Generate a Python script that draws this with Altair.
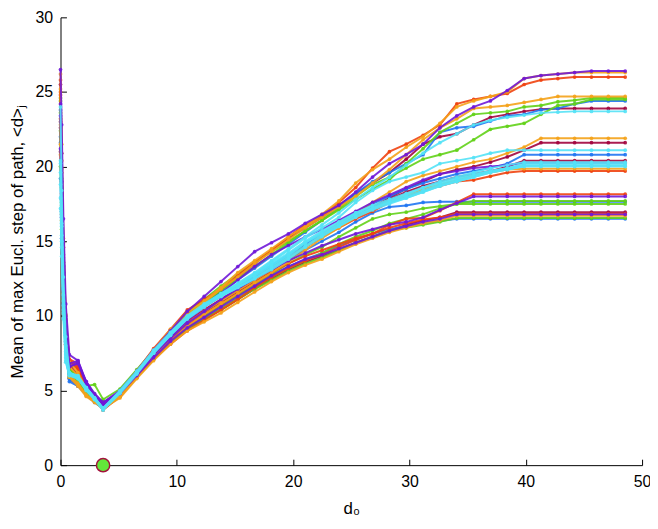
import altair as alt
import pandas as pd

# shared d0 grid
X = [0, 0.1, 0.25, 0.45, 0.76, 1.5, 2.21, 2.93, 3.66,
     5.11, 6.56, 8.0, 9.45, 10.9, 12.35, 13.8, 15.24, 16.69, 18.14, 19.59, 21.04, 22.48, 23.93, 25.38, 26.83, 28.28,
     29.72, 31.17, 32.62, 34.07, 35.52, 36.96, 38.41, 39.86, 41.31, 42.76, 44.2, 45.65, 47.1, 48.55]

A_PURPLE = [26.5, 22.8, 16.5, 10.8, 7.4, 7.0, 5.6, 4.8, 4.2,
            5.0, 6.3, 7.7, 9.0, 10.3, 11.3, 12.3, 13.3, 14.3, 14.9, 15.5, 16.2, 16.8, 17.4, 18.3, 19.3, 20.2,
            20.8, 21.5, 22.6, 23.4, 24.0, 24.4, 25.1, 25.9, 26.1, 26.2, 26.3, 26.4, 26.4, 26.4]
A_ORANGE = [26.2, 21.5, 15.2, 10.1, 6.9, 6.2, 5.1, 4.6, 4.0,
            4.9, 6.3, 7.7, 9.1, 10.2, 11.0, 11.9, 12.9, 13.7, 14.5, 15.3, 16.0, 16.8, 17.7, 18.9, 19.8, 20.5,
            21.3, 22.0, 22.9, 24.0, 24.4, 24.7, 25.0, 25.9, 26.1, 26.2, 26.3, 26.3, 26.3, 26.3]
A_RED = [25.8, 20.4, 14.6, 9.8, 7.1, 6.8, 5.2, 4.5, 3.8,
         4.8, 6.3, 7.8, 9.1, 10.4, 11.1, 11.8, 12.7, 13.6, 14.4, 15.3, 16.1, 16.7, 17.6, 18.6, 19.9, 21.0,
         21.5, 22.1, 22.8, 24.2, 24.5, 24.7, 24.9, 25.5, 25.8, 25.9, 26.0, 26.0, 26.0, 26.0]
B_ORANGE = [25.2, 19.8, 13.9, 9.6, 6.6, 6.0, 5.0, 4.4, 3.9,
            4.7, 6.1, 7.5, 8.8, 10.0, 10.9, 11.8, 12.6, 13.5, 14.3, 15.1, 15.9, 16.6, 17.3, 18.0, 18.9, 19.8,
            20.8, 21.8, 22.6, 23.2, 23.9, 24.0, 24.1, 24.3, 24.5, 24.7, 24.7, 24.7, 24.7, 24.7]
B_GREEN1 = [24.6, 19.2, 13.4, 9.2, 6.5, 5.9, 5.0, 4.5, 4.1,
            4.9, 6.3, 7.6, 8.9, 10.1, 10.9, 11.7, 12.5, 13.3, 14.1, 14.9, 15.7, 16.4, 17.1, 17.8, 18.5, 19.1,
            20.2, 21.2, 22.3, 22.9, 23.5, 23.6, 23.7, 24.0, 24.1, 24.35, 24.45, 24.6, 24.6, 24.6]
B_GREEN2 = [24.4, 18.6, 12.8, 8.9, 6.3, 5.6, 5.3, 5.4, 4.4,
            5.1, 6.4, 7.7, 9.0, 10.2, 11.1, 12.0, 12.8, 13.6, 14.3, 15.0, 15.7, 16.4, 17.2, 18.0, 18.8, 19.3,
            19.9, 20.5, 20.8, 21.1, 21.8, 22.5, 22.7, 22.9, 23.5, 24.1, 24.2, 24.5, 24.5, 24.5]
B_BLUE = [23.8, 18.0, 12.5, 8.7, 6.1, 5.5, 4.9, 4.3, 3.9,
          4.8, 6.2, 7.6, 8.8, 9.9, 10.8, 11.6, 12.4, 13.2, 14.0, 14.8, 15.6, 16.4, 17.3, 18.2, 19.0, 19.6,
          20.2, 20.8, 22.3, 22.6, 22.7, 23.05, 23.4, 23.5, 23.8, 23.9, 24.2, 24.4, 24.4, 24.4]
B_DARKRED = [25.5, 20.9, 14.9, 10.0, 6.8, 6.0, 5.1, 4.6, 4.0,
             4.8, 6.1, 7.5, 8.7, 9.9, 10.8, 11.7, 12.6, 13.5, 14.4, 15.2, 15.9, 16.6, 17.4, 18.2, 18.9, 19.6,
             20.5, 21.5, 22.0, 22.2, 22.8, 23.3, 23.5, 23.7, 23.85, 23.9, 23.9, 23.9, 23.9, 23.9]
B_CYAN = [24.0, 18.4, 12.6, 8.6, 6.2, 5.9, 5.1, 4.5, 3.8,
          4.9, 6.2, 7.6, 8.8, 9.9, 10.7, 11.5, 12.2, 12.9, 13.7, 14.5, 15.3, 16.1, 16.9, 17.8, 18.6, 19.3,
          20.1, 20.9, 21.6, 22.2, 22.8, 23.1, 23.3, 23.45, 23.6, 23.65, 23.7, 23.7, 23.7, 23.7]
C_ORANGE = [22.8, 17.4, 12.0, 8.3, 6.0, 5.5, 4.7, 4.3, 3.9,
            4.7, 6.0, 7.3, 8.5, 9.5, 10.3, 11.0, 11.7, 12.4, 13.1, 13.8, 14.6, 15.4, 16.2, 16.9, 17.6, 18.3,
            19.0, 19.4, 19.7, 20.0, 20.3, 20.5, 20.9, 21.3, 21.9, 21.9, 21.9, 21.9, 21.9, 21.9]
C_DARKRED = [21.0, 16.8, 11.6, 8.1, 5.8, 5.3, 4.8, 4.4, 4.0,
             4.8, 6.1, 7.4, 8.6, 9.6, 10.4, 11.1, 11.9, 12.6, 13.3, 14.0, 14.7, 15.3, 16.0, 16.7, 17.3, 17.9,
             18.5, 19.0, 19.5, 19.8, 20.0, 20.3, 20.65, 21.1, 21.6, 21.6, 21.6, 21.6, 21.6, 21.6]
C_CYAN = [20.4, 16.2, 11.4, 8.0, 6.2, 5.9, 5.2, 4.5, 3.8,
          4.9, 6.2, 7.6, 8.8, 9.9, 10.7, 11.4, 12.1, 12.8, 13.6, 14.4, 15.2, 15.9, 16.6, 17.6, 18.4, 19.0,
          19.3, 19.6, 20.2, 20.4, 20.6, 20.9, 21.1, 21.1, 21.1, 21.1, 21.1, 21.1, 21.1, 21.1]
C_BLUE = [22.0, 17.0, 11.8, 8.2, 5.9, 5.4, 4.8, 4.3, 3.9,
          4.8, 6.1, 7.5, 8.7, 9.8, 10.6, 11.3, 12.0, 12.7, 13.4, 14.1, 14.8, 15.5, 16.2, 16.9, 17.5, 18.0,
          18.5, 18.9, 19.2, 19.5, 19.7, 19.9, 20.2, 20.8, 20.8, 20.8, 20.8, 20.8, 20.8, 20.8]
C_DARKRED2 = [23.0, 18.1, 12.7, 8.8, 6.4, 6.0, 5.0, 4.4, 3.8,
              4.7, 6.0, 7.3, 8.4, 9.4, 10.2, 10.9, 11.6, 12.3, 13.0, 13.8, 14.6, 15.3, 16.0, 16.6, 17.2, 17.8,
              18.3, 18.7, 19.0, 19.3, 19.5, 19.7, 20.0, 20.4, 20.4, 20.4, 20.4, 20.4, 20.4, 20.4]
C_CYAN1 = [20.2, 16.0, 11.0, 7.6, 6.2, 6.0, 5.2, 4.5, 3.8,
           4.9, 6.2, 7.6, 8.8, 9.9, 10.7, 11.4, 12.0, 12.6, 13.3, 14.0, 14.9, 15.6, 16.2, 16.9, 17.3, 17.7,
           18.1, 18.6, 19.0, 19.3, 19.6, 19.9, 20.1, 20.3, 20.3, 20.3, 20.3, 20.3, 20.3, 20.3]
C_CYAN2 = [19.6, 15.4, 10.7, 7.4, 6.1, 5.9, 5.1, 4.4, 3.8,
           4.9, 6.2, 7.5, 8.7, 9.8, 10.6, 11.3, 11.9, 12.5, 13.2, 13.9, 14.7, 15.4, 16.0, 16.7, 17.2, 17.6,
           18.0, 18.4, 18.8, 19.1, 19.4, 19.7, 19.9, 20.2, 20.2, 20.2, 20.2, 20.2, 20.2, 20.2]
C_CYAN3 = [18.8, 15.0, 10.4, 7.2, 6.0, 5.8, 5.0, 4.4, 3.7,
           4.8, 6.1, 7.5, 8.7, 9.8, 10.6, 11.4, 12.1, 12.8, 13.5, 14.2, 15.0, 15.7, 16.3, 16.9, 17.4, 17.8,
           18.2, 18.6, 18.9, 19.2, 19.5, 19.7, 19.9, 20.1, 20.1, 20.1, 20.1, 20.1, 20.1, 20.1]
C_CYAN4 = [17.9, 14.6, 10.2, 7.0, 6.1, 5.9, 5.2, 4.5, 3.8,
           5.0, 6.3, 7.7, 8.9, 10.0, 10.8, 11.5, 12.1, 12.7, 13.4, 14.1, 14.9, 15.5, 16.1, 16.8, 17.2, 17.6,
           17.9, 18.3, 18.7, 19.0, 19.3, 19.6, 19.8, 20.0, 20.0, 20.0, 20.0, 20.0, 20.0, 20.0]
C_CYAN5 = [17.2, 14.0, 9.8, 6.9, 6.0, 5.8, 5.1, 4.4, 3.7,
           4.9, 6.2, 7.6, 8.8, 9.9, 10.7, 11.3, 11.9, 12.5, 13.1, 13.8, 14.6, 15.3, 16.0, 16.6, 17.1, 17.5,
           17.9, 18.3, 18.7, 19.0, 19.3, 19.6, 19.8, 20.05, 20.05, 20.05, 20.05, 20.05, 20.05, 20.05]
C_ORANGE2 = [21.5, 16.9, 11.7, 8.1, 5.9, 5.4, 4.7, 4.3, 3.8,
             4.6, 5.9, 7.2, 8.3, 9.3, 10.1, 10.8, 11.5, 12.2, 12.9, 13.6, 14.4, 15.2, 15.9, 16.6, 17.2, 17.7,
             18.1, 18.5, 18.8, 19.1, 19.4, 19.6, 19.8, 19.85, 19.85, 19.85, 19.85, 19.85, 19.85, 19.85]
C_RED = [24.8, 19.6, 13.6, 9.4, 6.9, 6.5, 5.1, 4.4, 3.7,
         4.7, 6.0, 7.4, 8.6, 9.6, 10.3, 11.0, 11.7, 12.4, 13.1, 13.9, 14.6, 15.3, 15.9, 16.5, 17.0, 17.6,
         18.0, 18.4, 18.7, 19.0, 19.1, 19.35, 19.6, 19.7, 19.7, 19.7, 19.7, 19.7, 19.7, 19.7]
C_PURPLE = [23.4, 18.3, 12.9, 8.9, 6.6, 6.8, 5.6, 4.7, 4.2,
            4.9, 6.1, 7.4, 8.6, 9.7, 10.6, 11.5, 12.4, 13.3, 14.1, 14.7, 15.3, 15.8, 16.4, 17.0, 17.6, 18.1,
            18.6, 19.1, 19.5, 19.7, 19.9, 20.0, 20.1, 20.25, 20.25, 20.25, 20.25, 20.25, 20.25, 20.25]
D_RED = [25.0, 19.9, 14.1, 9.7, 7.0, 6.6, 5.3, 4.5, 3.8,
         4.7, 6.0, 7.3, 8.4, 9.4, 10.1, 10.8, 11.5, 12.2, 12.9, 13.5, 14.0, 14.4, 14.8, 15.2, 15.5, 16.1,
         16.5, 16.55, 17.05, 17.6, 18.15, 18.15, 18.15, 18.15, 18.15, 18.15, 18.15, 18.15, 18.15, 18.15]
D_PURPLE = [24.2, 19.0, 13.3, 9.3, 6.8, 7.0, 5.5, 4.6, 4.0,
            4.8, 6.1, 7.4, 8.5, 9.5, 10.3, 11.1, 11.8, 12.5, 13.1, 13.7, 14.2, 14.7, 15.1, 15.5, 15.8, 16.1,
            16.3, 16.6, 17.1, 17.55, 18.0, 18.0, 18.0, 18.0, 18.0, 18.0, 18.0, 18.0, 18.0, 18.0]
D_GREEN = [23.6, 18.5, 12.9, 9.0, 6.4, 5.9, 5.0, 4.4, 3.9,
           4.6, 5.9, 7.1, 8.2, 9.2, 9.9, 10.5, 11.2, 11.9, 12.6, 13.2, 13.7, 14.2, 14.8, 15.3, 15.7, 16.2,
           16.5, 16.8, 17.2, 17.5, 17.7, 17.7, 17.7, 17.7, 17.7, 17.7, 17.7, 17.7, 17.7, 17.7]
D_GREEN2 = [22.4, 17.6, 12.3, 8.6, 6.2, 5.7, 4.9, 4.4, 4.0,
            4.7, 6.0, 7.2, 8.3, 9.3, 10.0, 10.7, 11.4, 12.1, 12.8, 13.5, 14.1, 14.6, 15.3, 15.9, 16.5, 16.8,
            16.95, 17.2, 17.35, 17.5, 17.5, 17.5, 17.5, 17.5, 17.5, 17.5, 17.5, 17.5, 17.5, 17.5]
D_BLUE = [21.6, 17.0, 11.9, 8.3, 5.8, 5.4, 4.8, 4.3, 3.9,
          4.7, 6.0, 7.3, 8.5, 9.5, 10.3, 11.0, 11.7, 12.4, 13.1, 13.8, 14.4, 15.0, 15.6, 16.3, 16.9, 17.3,
          17.4, 17.6, 17.65, 17.65, 17.65, 17.65, 17.65, 17.65, 17.65, 17.65, 17.65, 17.65, 17.65, 17.65]
D_DARKRED = [22.6, 17.8, 12.4, 8.7, 6.3, 5.8, 4.9, 4.3, 3.8,
             4.6, 5.9, 7.1, 8.2, 9.1, 9.8, 10.4, 11.1, 11.8, 12.5, 13.1, 13.6, 14.0, 14.4, 14.9, 15.3, 15.7,
             16.1, 16.4, 16.6, 16.95, 16.95, 16.95, 16.95, 16.95, 16.95, 16.95, 16.95, 16.95, 16.95, 16.95]
D_PURPLE2 = [21.2, 16.6, 11.7, 8.2, 6.6, 6.9, 5.4, 4.6, 4.1,
             4.8, 6.0, 7.2, 8.3, 9.2, 9.9, 10.6, 11.3, 12.0, 12.7, 13.3, 13.8, 14.1, 14.5, 14.9, 15.3, 15.7,
             16.0, 16.3, 16.5, 16.8, 16.8, 16.8, 16.8, 16.8, 16.8, 16.8, 16.8, 16.8, 16.8, 16.8]
D_ORANGE = [20.8, 16.4, 11.5, 8.0, 5.9, 5.3, 4.6, 4.2, 3.8,
            4.5, 5.8, 7.0, 8.1, 9.0, 9.6, 10.2, 10.9, 11.6, 12.3, 12.9, 13.4, 13.8, 14.3, 14.8, 15.2, 15.6,
            15.9, 16.2, 16.4, 16.7, 16.7, 16.7, 16.7, 16.7, 16.7, 16.7, 16.7, 16.7, 16.7, 16.7]
D_GREEN3 = [20.0, 15.8, 11.1, 7.8, 5.9, 5.5, 4.8, 4.3, 3.9,
            4.6, 5.9, 7.1, 8.2, 9.1, 9.8, 10.4, 11.1, 11.8, 12.4, 13.0, 13.5, 13.9, 14.4, 14.9, 15.3, 15.7,
            15.9, 16.1, 16.3, 16.55, 16.55, 16.55, 16.55, 16.55, 16.55, 16.55, 16.55, 16.55, 16.55, 16.55]
D_BLUE2 = [19.2, 15.2, 10.8, 7.6, 5.6, 5.3, 4.7, 4.2, 3.8,
           4.6, 5.9, 7.2, 8.3, 9.3, 10.0, 10.7, 11.4, 12.0, 12.7, 13.3, 13.8, 14.2, 14.7, 15.1, 15.5, 15.8,
           16.0, 16.2, 16.35, 16.5, 16.5, 16.5, 16.5, 16.5, 16.5, 16.5, 16.5, 16.5, 16.5, 16.5]
D_RED2 = [23.2, 18.2, 12.7, 8.9, 6.9, 6.4, 5.1, 4.4, 3.7,
          4.6, 5.9, 7.1, 8.1, 9.0, 9.7, 10.4, 11.1, 11.9, 12.6, 13.2, 13.7, 14.1, 14.6, 15.1, 15.5, 15.9,
          16.2, 16.45, 16.6, 16.85, 16.85, 16.85, 16.85, 16.85, 16.85, 16.85, 16.85, 16.85, 16.85, 16.85]

MIN_D0 = [3.66]
MIN_Y = [0]

COLORS = {"darkred": "#a2043e", "blue": "#2076f2", "green": "#62d218", "red": "#ef4210",
          "orange": "#f4a21a", "purple": "#7018d8", "cyan": "#54e2f6"}

SERIES = [
    ("A_PURPLE", "purple", A_PURPLE), ("A_ORANGE", "orange", A_ORANGE), ("A_RED", "red", A_RED),
    ("B_ORANGE", "orange", B_ORANGE), ("B_GREEN1", "green", B_GREEN1), ("B_GREEN2", "green", B_GREEN2),
    ("B_BLUE", "blue", B_BLUE), ("B_DARKRED", "darkred", B_DARKRED), ("B_CYAN", "cyan", B_CYAN),
    ("C_ORANGE", "orange", C_ORANGE), ("C_DARKRED", "darkred", C_DARKRED), ("C_CYAN", "cyan", C_CYAN),
    ("C_BLUE", "blue", C_BLUE), ("C_DARKRED2", "darkred", C_DARKRED2),
    ("C_CYAN1", "cyan", C_CYAN1), ("C_CYAN2", "cyan", C_CYAN2), ("C_CYAN3", "cyan", C_CYAN3),
    ("C_CYAN4", "cyan", C_CYAN4), ("C_CYAN5", "cyan", C_CYAN5),
    ("C_ORANGE2", "orange", C_ORANGE2), ("C_RED", "red", C_RED), ("C_PURPLE", "purple", C_PURPLE),
    ("D_RED", "red", D_RED), ("D_PURPLE", "purple", D_PURPLE), ("D_GREEN", "green", D_GREEN),
    ("D_GREEN2", "green", D_GREEN2), ("D_BLUE", "blue", D_BLUE), ("D_DARKRED", "darkred", D_DARKRED),
    ("D_PURPLE2", "purple", D_PURPLE2), ("D_ORANGE", "orange", D_ORANGE), ("D_GREEN3", "green", D_GREEN3),
    ("D_BLUE2", "blue", D_BLUE2), ("D_RED2", "red", D_RED2),
]

rows = []
for name, col, ys in SERIES:
    for xv, yv in zip(X, ys):
        rows.append({"series": name, "col": col, "x": xv, "y": yv})
df = pd.DataFrame(rows)

W, H = 587, 452
FONT = "Liberation Sans"
xscale = alt.Scale(domain=[0, 50], nice=False, zero=False)
yscale = alt.Scale(domain=[0, 30], nice=False)
XT = [0, 10, 20, 30, 40, 50]
YT = [0, 5, 10, 15, 20, 25, 30]

main_x = alt.Axis(values=XT, ticks=False, grid=False, domainColor="black", domainWidth=1,
                  labelFont=FONT, labelFontSize=16, labelColor="black", labelPadding=9,
                  labelFlush=False,
                  title="d₀", titleFont=FONT, titleFontSize=17, titleFontWeight="normal",
                  titleColor="black", titlePadding=11)
main_y = alt.Axis(values=YT, ticks=False, grid=False, domainColor="black", domainWidth=1,
                  labelFont=FONT, labelFontSize=16, labelColor="black", labelPadding=8,
                  labelFlush=False,
                  title="Mean of max Eucl. step of path, <d>ⱼ", titleFont=FONT, titleFontSize=17,
                  titleFontWeight="normal", titleColor="black", titlePadding=9)
tick_x = alt.Axis(orient="top", offset=-H, values=XT, ticks=True, tickSize=6, tickColor="black",
                  tickWidth=1, labels=False, domain=False, grid=False, title="")
tick_y = alt.Axis(orient="right", offset=-W, values=YT, ticks=True, tickSize=6, tickColor="black",
                  tickWidth=1, labels=False, domain=False, grid=False, title="")

order = ["darkred", "blue", "green", "red", "orange", "purple", "cyan"]
layers = []
for i, c in enumerate(order):
    sub = df[df.col == c]
    ax_x = main_x if i == 0 else None
    ax_y = main_y if i == 0 else None
    layers.append(
        alt.Chart(sub).mark_line(
            color=COLORS[c], strokeWidth=2, opacity=0.9,
            point=alt.OverlayMarkDef(filled=True, size=14, color=COLORS[c], opacity=0.9)
        ).encode(
            x=alt.X("x:Q", scale=xscale, axis=ax_x),
            y=alt.Y("y:Q", scale=yscale, axis=ax_y),
            detail="series:N",
        )
    )

dot = alt.Chart(pd.DataFrame({"x": MIN_D0, "y": MIN_Y})).mark_circle(
    size=180, fill="#63e83a", fillOpacity=1, opacity=1, stroke="#a3123c", strokeWidth=1.5
).encode(
    x=alt.X("x:Q", scale=xscale, axis=tick_x),
    y=alt.Y("y:Q", scale=yscale, axis=tick_y),
)
layers.append(dot)

chart = alt.layer(*layers).resolve_axis(x="independent", y="independent").properties(
    width=W, height=H,
    autosize=alt.AutoSizeParams(type="none"),
    padding={"left": 53, "top": 7, "right": 8, "bottom": 60},
).configure_view(strokeWidth=0)

chart.save("out.html", embed_options={"renderer": "svg", "actions": False})
